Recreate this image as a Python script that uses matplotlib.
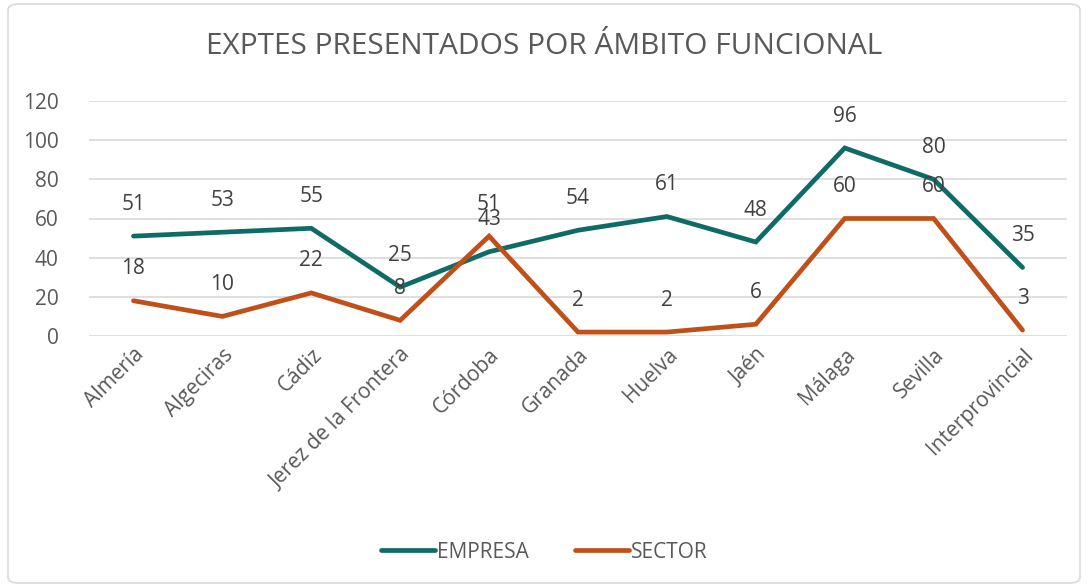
import matplotlib.pyplot as plt
from matplotlib.patches import FancyBboxPatch
import numpy as np

categories = ["Almería", "Algeciras", "Cádiz", "Jerez de la Frontera", "Córdoba",
              "Granada", "Huelva", "Jaén", "Málaga", "Sevilla", "Interprovincial"]
empresa = [51, 53, 55, 25, 43, 54, 61, 48, 96, 80, 35]
sector = [18, 10, 22, 8, 51, 2, 2, 6, 60, 60, 3]
yticks = [0, 20, 40, 60, 80, 100, 120]

TEAL = "#0f6b66"
ORANGE = "#c0501a"
GREY = "#595959"

plt.rcParams["font.family"] = ["Open Sans", "DejaVu Sans"]

fig = plt.figure(figsize=(10.88, 5.87), dpi=100)
ax = fig.add_axes([89 / 1088, 1 - 336 / 587, (1067 - 89) / 1088, (336 - 101) / 587])

# chart frame
fig.patches.append(FancyBboxPatch((8 / 1088, 4 / 587), 1 - 16 / 1088, 1 - 8 / 587,
                                  boxstyle="round,pad=0,rounding_size=0.01",
                                  transform=fig.transFigure, fill=False,
                                  edgecolor="#d9d9d9", linewidth=1.2))

x = np.arange(len(categories))
ax.plot(x, empresa, color=TEAL, lw=3.4, solid_capstyle="round", solid_joinstyle="miter",
        label="EMPRESA", zorder=3)
ax.plot(x, sector, color=ORANGE, lw=3.4, solid_capstyle="round", solid_joinstyle="miter",
        label="SECTOR", zorder=3)

for vals in (empresa, sector):
    for xi, v in zip(x, vals):
        ax.annotate(str(v), (xi, v), xytext=(0, 23), textcoords="offset points",
                    ha="center", va="center", fontsize=15, color="#404040", zorder=4)

ax.set_xlim(-0.5, len(categories) - 0.5)
ax.set_ylim(0, 120)
ax.set_yticks(yticks)
ax.grid(axis="y", color="#d9d9d9", lw=1.2)
ax.set_axisbelow(True)
for s in ax.spines.values():
    s.set_visible(False)
ax.tick_params(axis="both", length=0, colors=GREY, labelsize=15)
ax.tick_params(axis="y", pad=22)
ax.set_xticks(x)
ax.set_xticklabels(categories, rotation=45, ha="right", rotation_mode="anchor")
ax.tick_params(axis="x", pad=6)

fig.text(0.5, 1 - 47 / 587, "EXPTES PRESENTADOS POR ÁMBITO FUNCIONAL",
         ha="center", va="center", fontsize=21.5, color=GREY)

fig.legend(loc="center", bbox_to_anchor=(0.5, 1 - 552 / 587), ncol=2, frameon=False,
           fontsize=15, labelcolor=GREY, handlelength=2.6, handletextpad=0.1,
           columnspacing=2.2)

fig.savefig("out.png", dpi=100)
